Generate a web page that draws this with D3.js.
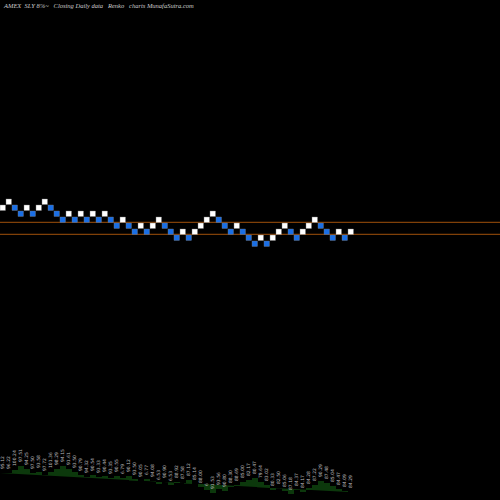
<!DOCTYPE html><html><head><script src="https://d3js.org/d3.v7.min.js"></script>
<style>body{margin:0;background:#000}</style></head><body><svg id="c" width="500" height="500"></svg>
<script>
const rows=[1,0,1,2,1,2,1,0,1,2,3,2,3,2,3,2,3,2,3,4,3,4,5,4,5,4,3,4,5,6,5,6,5,4,3,2,3,4,5,4,5,6,7,6,7,6,5,4,5,6,5,4,3,4,5,6,5,6,5];
const colors=["w","w","b","b","w","b","w","w","b","b","b","w","b","w","b","w","b","w","b","b","w","b","b","w","b","w","w","b","b","b","w","b","w","w","w","w","b","b","b","w","b","b","b","w","b","w","w","w","b","b","w","w","w","b","b","b","w","b","w"];
const volume=[23,23,26,30,27,23,24,21,24,27,30,27,24,21,19,21,19,20,18,20,18,20,17,15,17,15,12,14,11,14,13,16,12,9,6,3,7,5,9,11,14,16,18,14,11,6,8,5,2,6,4,8,11,15,13,10,7,5,4];
const labels=["95.12","96.22","100.24","97.51","94.25","97.50","93.58","97.72","101.36","98.29","94.15","91.61","93.50","90.79","94.32","90.54","93.33","90.44","93.35","90.55","6.79","90.12","93.50","90.05","6.77","94.08","6.53","90.90","6.53","88.92","87.58","87.12","85.14","88.00","6","91.53","93.56","90.80","88.30","88.69","85.00","82.17","80.47","79.64","83.02","80.33","82.50","85.06","87.18","84.37","84.17","84.28","87.22","90.29","87.48","85.04","84.47","84.09","84.29"];
const svg=d3.select("#c");
const x=d3.scaleBand().domain(d3.range(rows.length)).range([0,rows.length*6]);
const y=d3.scaleLinear().domain([0,7]).range([199,241]);
svg.append("text").attr("x",4).attr("y",8).attr("fill","#ccc").attr("font-family","Liberation Serif").attr("font-style","italic").attr("font-size",6.5).attr("xml:space","preserve").text("AMEX  SLY 8%~   Closing Daily data   Renko   charts MunafaSutra.com");
[222.3,234.3].forEach(v=>svg.append("line").attr("x1",0).attr("x2",500).attr("y1",v).attr("y2",v).attr("stroke","#a0500a").attr("stroke-width",1));
svg.selectAll("rect.b").data(rows).join("rect").attr("x",(d,i)=>x(i)).attr("y",d=>y(d)).attr("width",5.5).attr("height",5.5)
 .attr("fill",(d,i)=>colors[i]=="w"?"#fff":"#1a6fe6").attr("stroke","#777").attr("stroke-width",0.4);
const vy=d3.scaleLinear().domain([0,30]).range([496,466]);
const area=d3.area().curve(d3.curveStepAfter).x((d,i)=>x(i)).y0(496).y1(d=>vy(d));
svg.append("path").datum(volume.concat([volume[volume.length-1]])).attr("d",area).attr("fill","#0c380c");
svg.selectAll("text.l").data(labels).join("text").attr("font-family","DejaVu Sans").attr("font-size",4.5).attr("fill","#bbb")
 .attr("transform",(d,i)=>`translate(${x(i)+4},${vy(volume[i])-4}) rotate(-90)`).text(d=>d);
</script></body></html>
